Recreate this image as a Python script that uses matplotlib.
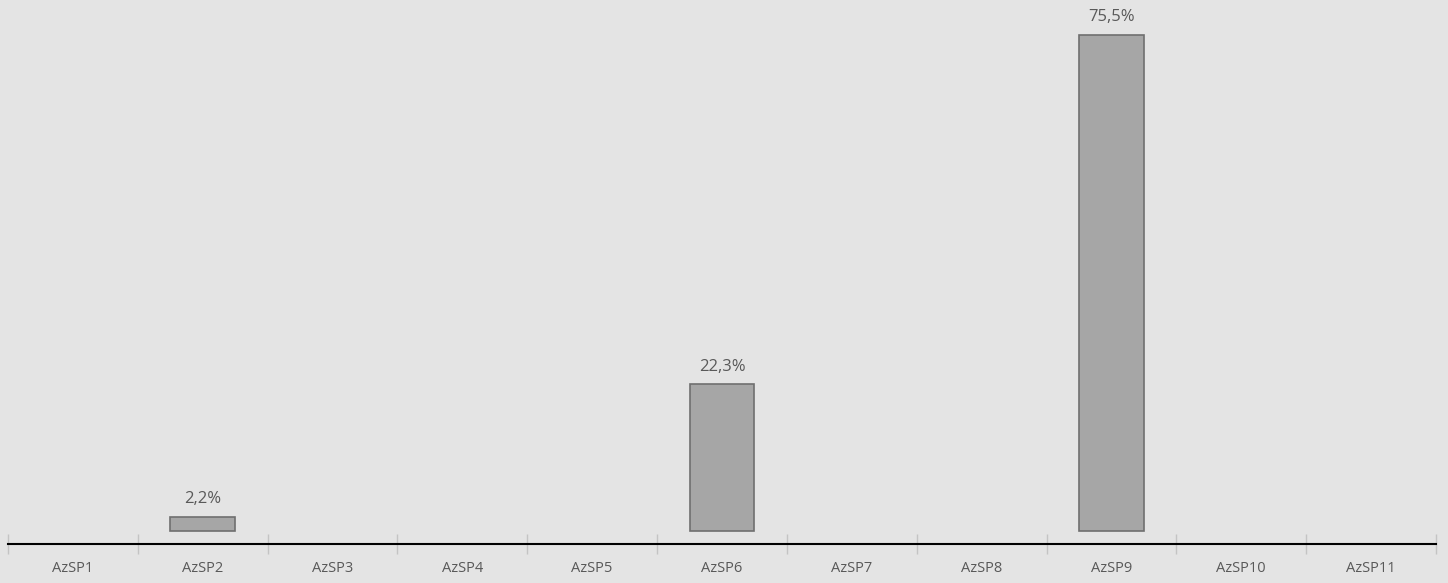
import matplotlib.pyplot as plt
import numpy as np

## data
categories = ["AzSP1", "AzSP2", "AzSP3", "AzSP4", "AzSP5", "AzSP6",
              "AzSP7", "AzSP8", "AzSP9", "AzSP10", "AzSP11"]
values = [0, 2.2, 0, 0, 0, 22.3, 0, 0, 75.5, 0, 0]

plt.rcParams['font.family'] = ['Open Sans', 'DejaVu Sans']
bg = '#e4e4e4'

fig = plt.figure(figsize=(14.48, 5.83), dpi=100, facecolor=bg)
ax = fig.add_axes([8/1448, 39/583, 1428/1448, 544/583])
ax.set_facecolor(bg)

x = np.arange(len(categories))
edges = ['#6f6f6f' if v > 0 else 'none' for v in values]
bars = ax.bar(x, values, width=0.5, color='#a6a6a6', edgecolor=edges, linewidth=1.2)

# value labels, only for non-empty bars
for xi, v in zip(x, values):
    if v > 0:
        ax.annotate(f"{v:.1f}%".replace('.', ','), (xi, v), xytext=(0, 7),
                    textcoords='offset points', ha='center', va='bottom',
                    fontsize=12, color='#595959')

ax.set_xlim(-0.5, len(categories) - 0.5)
ax.set_ylim(-13/6.57, 531/6.57)

# axis look
for s in ['top', 'right', 'left']:
    ax.spines[s].set_visible(False)
ax.spines['bottom'].set_color('black')
ax.spines['bottom'].set_linewidth(1.5)
ax.set_yticks([])

ax.set_xticks(np.arange(len(categories) + 1) - 0.5)
ax.set_xticklabels([])
ax.tick_params(axis='x', which='major', direction='inout', length=14, width=1, color='#c4c4c4')
ax.set_xticks(x, minor=True)
ax.set_xticklabels(categories, minor=True)
ax.tick_params(axis='x', which='minor', length=0, pad=12, labelsize=10.5, labelcolor='#595959')

fig.savefig('out.png', dpi=100, facecolor=bg)
